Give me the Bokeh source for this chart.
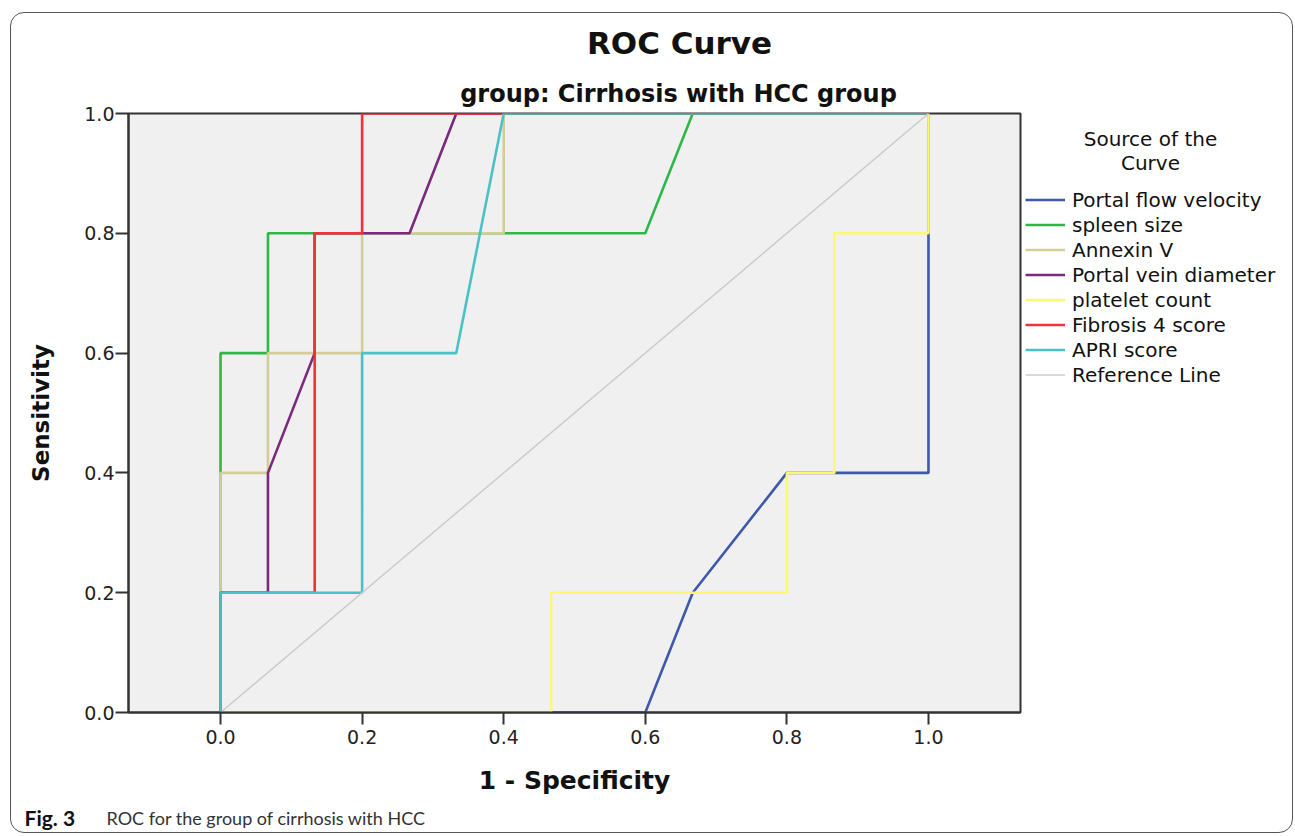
from bokeh.plotting import figure
from bokeh.models import (Label, Legend, LegendItem, FixedTicker, PrintfTickFormatter,
                          Range1d, InlineStyleSheet)
from bokeh.embed import file_html
from bokeh.resources import INLINE

# ---- data (1 - specificity, sensitivity) ----
series_names = ["Portal flow velocity", "spleen size", "Annexin V", "Portal vein diameter",
                "platelet count", "Fibrosis 4 score", "APRI score", "Reference Line"]
series_colors = ["#3E58AC", "#2EB848", "#D3CE97", "#7C287D",
                 "#FBF873", "#EF3338", "#48C2C5", "#CCCCCC"]

portal_flow_x = [0, 0.6, 0.667, 0.8, 1.0, 1.0]
portal_flow_y = [0, 0, 0.2, 0.4, 0.4, 1.0]

spleen_x = [0, 0, 0.067, 0.067, 0.6, 0.667, 1.0]
spleen_y = [0, 0.6, 0.6, 0.8, 0.8, 1.0, 1.0]

annexin_x = [0, 0, 0.067, 0.067, 0.2, 0.2, 0.4, 0.4, 1.0]
annexin_y = [0, 0.4, 0.4, 0.6, 0.6, 0.8, 0.8, 1.0, 1.0]

portal_vein_x = [0, 0, 0.067, 0.067, 0.133, 0.133, 0.267, 0.333, 1.0]
portal_vein_y = [0, 0.2, 0.2, 0.4, 0.6, 0.8, 0.8, 1.0, 1.0]

platelet_x = [0, 0.467, 0.467, 0.8, 0.8, 0.867, 0.867, 1.0, 1.0]
platelet_y = [0, 0, 0.2, 0.2, 0.4, 0.4, 0.8, 0.8, 1.0]

fib4_x = [0, 0, 0.133, 0.133, 0.2, 0.2, 1.0]
fib4_y = [0, 0.2, 0.2, 0.8, 0.8, 1.0, 1.0]

apri_x = [0, 0, 0.2, 0.2, 0.333, 0.4, 1.0]
apri_y = [0, 0.2, 0.2, 0.6, 0.6, 1.0, 1.0]

reference_x = [0, 1]
reference_y = [0, 1]

tick_values = [0.0, 0.2, 0.4, 0.6, 0.8, 1.0]

series_x = [portal_flow_x, spleen_x, annexin_x, portal_vein_x, platelet_x, fib4_x, apri_x, reference_x]
series_y = [portal_flow_y, spleen_y, annexin_y, portal_vein_y, platelet_y, fib4_y, apri_y, reference_y]

# ---- layout constants (pixels) ----
FRAME_LEFT = 128
FRAME_TOP = 113
FRAME_W = 892
FRAME_H = 599
FRAME_RIGHT = FRAME_LEFT + FRAME_W
FRAME_BOTTOM = FRAME_TOP + FRAME_H
X0_PX, X1_PX = 220, 928   # pixel of x = 0 and x = 1

def dx(px):   # pixel column -> data x
    return (px - X0_PX) / (X1_PX - X0_PX)

def dy(py):   # pixel row -> data y
    return (FRAME_BOTTOM - py) / FRAME_H

border_css = InlineStyleSheet(css="""
:host { position: relative; }
:host::after {
  content: ""; position: absolute; left: 10px; top: 12px;
  width: 1283px; height: 821px; box-sizing: border-box;
  border: 1.3px solid #555555; border-radius: 14px; pointer-events: none;
}
""")

p = figure(frame_width=FRAME_W, frame_height=FRAME_H,
           x_range=Range1d(-0.13, 1.13), y_range=Range1d(0, 1),
           output_backend="svg", toolbar_location=None,
           min_border_left=FRAME_LEFT, min_border_right=1293 - FRAME_RIGHT,
           min_border_top=FRAME_TOP, min_border_bottom=834 - FRAME_BOTTOM,
           background_fill_color="#F0F0F0", border_fill_color="white",
           stylesheets=[border_css])

p.outline_line_color = "#333333"
p.outline_line_width = 2
p.grid.visible = False

for ax in (p.xaxis[0], p.yaxis[0]):
    ax.ticker = FixedTicker(ticks=tick_values)
    ax.formatter = PrintfTickFormatter(format="%.1f")
    ax.axis_line_color = "#333333"
    ax.axis_line_width = 2
    ax.major_tick_line_color = "#333333"
    ax.major_tick_line_width = 2
    ax.major_tick_in = 0
    ax.minor_tick_line_color = None
    ax.major_label_text_font = "DejaVu Sans"
    ax.major_label_text_font_size = "19px"
    ax.major_label_text_color = "#222222"
    ax.axis_label_text_font = "DejaVu Sans"
    ax.axis_label_text_font_style = "bold"
    ax.axis_label_text_color = "#111111"

p.yaxis.major_tick_out = 13
p.yaxis.major_label_standoff = 1
p.yaxis.axis_label = "Sensitivity"
p.yaxis.axis_label_text_font_size = "23px"
p.yaxis.axis_label_standoff = 27

p.xaxis.major_tick_out = 12
p.xaxis.major_label_standoff = 5
p.xaxis.axis_label = None

items = []
for name, color, xs, ys in zip(series_names, series_colors, series_x, series_y):
    lw = 1.5 if name == "Reference Line" else 2.6
    r = p.line(xs, ys, line_color=color, line_width=lw)
    items.append(LegendItem(label=name, renderers=[r]))

# legend in the right side panel; location = (x from panel left, legend bottom above frame bottom)
LEG_LEFT = 1025
LEG_ITEM_H = 25
LEG_TOP = 187
leg_bottom = LEG_TOP + LEG_ITEM_H * len(items)
legend = Legend(items=items, location=(LEG_LEFT - FRAME_RIGHT, FRAME_BOTTOM - leg_bottom),
                padding=0, margin=0, spacing=0,
                glyph_width=40, glyph_height=LEG_ITEM_H, label_height=LEG_ITEM_H,
                label_standoff=7, label_text_font="DejaVu Sans",
                label_text_font_size="20px", label_text_color="#111111",
                border_line_alpha=0, background_fill_alpha=0)
p.add_layout(legend, "right")

# texts: data-unit labels living in side panels (so they are not clipped to the frame)
def add_label(panel, text, px, py, size, bold=False, font="DejaVu Sans", align="center",
              color="#111111"):
    p.add_layout(Label(x=dx(px), y=dy(py), text=text, text_align=align,
                       text_baseline="middle", text_font=font, text_font_size=size,
                       text_font_style="bold" if bold else "normal",
                       text_color=color), panel)

add_label("above", "ROC Curve", 679, 42, "31px", bold=True)
add_label("above", "group: Cirrhosis with HCC group", 678, 93, "24px", bold=True)
add_label("above", "Source of the", 1150, 138, "20px")
add_label("above", "Curve", 1150, 162, "20px")

add_label("below", "1 - Specificity", 574, 780, "25px", bold=True)
add_label("below", "Fig. 3", 24, 817, "21px", bold=True, font="Lato", align="left")
add_label("below", "ROC for the group of cirrhosis with HCC", 106, 817, "18px", font="Lato",
          align="left", color="#333333")

open("out.html", "w").write(file_html(p, INLINE))
